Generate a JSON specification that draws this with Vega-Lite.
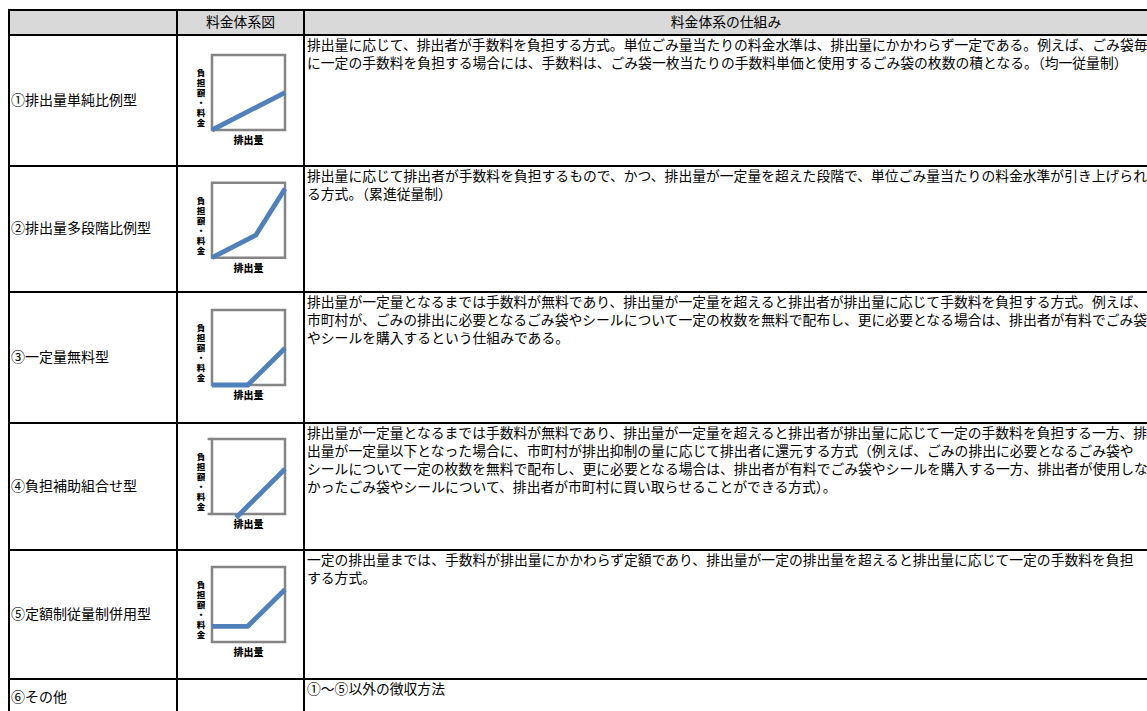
{
  "$schema": "https://vega.github.io/schema/vega-lite/v6.json",
  "padding": {"left": 8, "top": 9, "right": 0, "bottom": 0},
  "columns": 3,
  "spacing": 0,
  "align": "each",
  "bounds": "flush",
  "config": {
    "view": {"stroke": "#000000", "strokeWidth": 2, "fill": "#ffffff"},
    "font": "Noto Sans CJK JP",
    "text": {"fontSize": 14, "color": "#000000"},
    "concat": {"spacing": 0}
  },
  "datasets": {
    "rows": [
      {"row": 1, "type": "①排出量単純比例型", "desc": "排出量に応じて、排出者が手数料を負担する方式。単位ごみ量当たりの料金水準は、排出量にかかわらず一定である。例えば、ごみ袋毎\nに一定の手数料を負担する場合には、手数料は、ごみ袋一枚当たりの手数料単価と使用するごみ袋の枚数の積となる。（均一従量制）"},
      {"row": 2, "type": "②排出量多段階比例型", "desc": "排出量に応じて排出者が手数料を負担するもので、かつ、排出量が一定量を超えた段階で、単位ごみ量当たりの料金水準が引き上げられ\nる方式。（累進従量制）"},
      {"row": 3, "type": "③一定量無料型", "desc": "排出量が一定量となるまでは手数料が無料であり、排出量が一定量を超えると排出者が排出量に応じて手数料を負担する方式。例えば、\n市町村が、ごみの排出に必要となるごみ袋やシールについて一定の枚数を無料で配布し、更に必要となる場合は、排出者が有料でごみ袋\nやシールを購入するという仕組みである。"},
      {"row": 4, "type": "④負担補助組合せ型", "desc": "排出量が一定量となるまでは手数料が無料であり、排出量が一定量を超えると排出者が排出量に応じて一定の手数料を負担する一方、排\n出量が一定量以下となった場合に、市町村が排出抑制の量に応じて排出者に還元する方式（例えば、ごみの排出に必要となるごみ袋や\nシールについて一定の枚数を無料で配布し、更に必要となる場合は、排出者が有料でごみ袋やシールを購入する一方、排出者が使用しな\nかったごみ袋やシールについて、排出者が市町村に買い取らせることができる方式）。"},
      {"row": 5, "type": "⑤定額制従量制併用型", "desc": "一定の排出量までは、手数料が排出量にかかわらず定額であり、排出量が一定の排出量を超えると排出量に応じて一定の手数料を負担\nする方式。"},
      {"row": 6, "type": "⑥その他", "desc": "①～⑤以外の徴収方法"}
    ],
    "curves": [
      {"row": 1, "x": 0, "y": 0},
      {"row": 1, "x": 1, "y": 0.5},
      {"row": 2, "x": 0, "y": 0},
      {"row": 2, "x": 0.6, "y": 0.3},
      {"row": 2, "x": 1, "y": 0.92},
      {"row": 3, "x": 0, "y": 0},
      {"row": 3, "x": 0.49, "y": 0},
      {"row": 3, "x": 1, "y": 0.49},
      {"row": 4, "x": 0.33, "y": -0.05},
      {"row": 4, "x": 1, "y": 0.6},
      {"row": 5, "x": 0, "y": 0.21},
      {"row": 5, "x": 0.49, "y": 0.21},
      {"row": 5, "x": 1, "y": 0.7}
    ],
    "ticks": [{"row": 4, "y": 0}, {"row": 4, "y": 1}]
  },
  "concat": [
    {"width": 168, "height": 25, "view": {"fill": "#d9d9d9", "stroke": "#000000", "strokeWidth": 2}, "data": {"values": [{}]}, "mark": {"type": "text", "text": ""}},
    {"width": 127, "height": 25, "view": {"fill": "#d9d9d9", "stroke": "#000000", "strokeWidth": 2}, "data": {"values": [{}]}, "mark": {"type": "text", "text": "料金体系図", "fontSize": 13.8}},
    {"width": 844, "height": 25, "view": {"fill": "#d9d9d9", "stroke": "#000000", "strokeWidth": 2}, "data": {"values": [{}]}, "mark": {"type": "text", "text": "料金体系の仕組み", "fontSize": 13.8}},

    {"width": 168, "height": 131, "data": {"name": "rows"}, "transform": [{"filter": "datum.row == 1"}], "mark": {"type": "text", "align": "left", "dx": 2}, "encoding": {"text": {"field": "type"}, "x": {"datum": 0, "type": "quantitative", "scale": {"domain": [0, 1]}, "axis": null}}},
    {"width": 127, "height": 131, "layer": [
      {"data": {"values": [{}]}, "mark": {"type": "rect", "fill": "#ffffff", "stroke": "#858585", "strokeWidth": 2.5}, "encoding": {"x": {"datum": 0, "type": "quantitative", "scale": {"domain": [-0.479, 1.26], "nice": false, "zero": false}, "axis": null}, "x2": {"datum": 1}, "y": {"datum": 0, "type": "quantitative", "scale": {"domain": [-0.48, 1.267], "nice": false, "zero": false}, "axis": null}, "y2": {"datum": 1}}},
      {"data": {"name": "curves"}, "transform": [{"filter": "datum.row == 1"}], "mark": {"type": "line", "color": "#4f81bd", "strokeWidth": 4.8}, "encoding": {"x": {"field": "x", "type": "quantitative"}, "y": {"field": "y", "type": "quantitative"}}},
      {"data": {"values": [{}]}, "mark": {"type": "text", "text": "負\n担\n額\n・\n料\n金", "lineBreak": "\n", "fontWeight": 900, "fontSize": 8.5, "lineHeight": 10, "baseline": "top", "align": "center"}, "encoding": {"x": {"datum": -0.15}, "y": {"datum": 0.81}}},
      {"data": {"values": [{}]}, "mark": {"type": "text", "text": "排出量", "fontWeight": 900, "fontSize": 10, "baseline": "top", "align": "center"}, "encoding": {"x": {"datum": 0.5}, "y": {"datum": -0.08}}}
    ]},
    {"width": 844, "height": 131, "data": {"name": "rows"}, "transform": [{"filter": "datum.row == 1"}], "mark": {"type": "text", "align": "left", "baseline": "top", "dx": 3, "dy": 4, "fontSize": 13.8, "lineBreak": "\n", "lineHeight": 18, "clip": true}, "encoding": {"text": {"field": "desc"}, "x": {"datum": 0, "type": "quantitative", "scale": {"domain": [0, 1]}, "axis": null}, "y": {"datum": 1, "type": "quantitative", "scale": {"domain": [0, 1]}, "axis": null}}},

    {"width": 168, "height": 126, "data": {"name": "rows"}, "transform": [{"filter": "datum.row == 2"}], "mark": {"type": "text", "align": "left", "dx": 2}, "encoding": {"text": {"field": "type"}, "x": {"datum": 0, "type": "quantitative", "scale": {"domain": [0, 1]}, "axis": null}}},
    {"width": 127, "height": 126, "layer": [
      {"data": {"values": [{}]}, "mark": {"type": "rect", "fill": "#ffffff", "stroke": "#858585", "strokeWidth": 2.5}, "encoding": {"x": {"datum": 0, "type": "quantitative", "scale": {"domain": [-0.479, 1.26], "nice": false, "zero": false}, "axis": null}, "x2": {"datum": 1}, "y": {"datum": 0, "type": "quantitative", "scale": {"domain": [-0.457, 1.223], "nice": false, "zero": false}, "axis": null}, "y2": {"datum": 1}}},
      {"data": {"name": "curves"}, "transform": [{"filter": "datum.row == 2"}], "mark": {"type": "line", "color": "#4f81bd", "strokeWidth": 4.8}, "encoding": {"x": {"field": "x", "type": "quantitative"}, "y": {"field": "y", "type": "quantitative"}}},
      {"data": {"values": [{}]}, "mark": {"type": "text", "text": "負\n担\n額\n・\n料\n金", "lineBreak": "\n", "fontWeight": 900, "fontSize": 8.5, "lineHeight": 10, "baseline": "top", "align": "center"}, "encoding": {"x": {"datum": -0.15}, "y": {"datum": 0.81}}},
      {"data": {"values": [{}]}, "mark": {"type": "text", "text": "排出量", "fontWeight": 900, "fontSize": 10, "baseline": "top", "align": "center"}, "encoding": {"x": {"datum": 0.5}, "y": {"datum": -0.08}}}
    ]},
    {"width": 844, "height": 126, "data": {"name": "rows"}, "transform": [{"filter": "datum.row == 2"}], "mark": {"type": "text", "align": "left", "baseline": "top", "dx": 3, "dy": 4, "fontSize": 13.8, "lineBreak": "\n", "lineHeight": 18, "clip": true}, "encoding": {"text": {"field": "desc"}, "x": {"datum": 0, "type": "quantitative", "scale": {"domain": [0, 1]}, "axis": null}, "y": {"datum": 1, "type": "quantitative", "scale": {"domain": [0, 1]}, "axis": null}}},

    {"width": 168, "height": 131, "data": {"name": "rows"}, "transform": [{"filter": "datum.row == 3"}], "mark": {"type": "text", "align": "left", "dx": 2}, "encoding": {"text": {"field": "type"}, "x": {"datum": 0, "type": "quantitative", "scale": {"domain": [0, 1]}, "axis": null}}},
    {"width": 127, "height": 131, "layer": [
      {"data": {"values": [{}]}, "mark": {"type": "rect", "fill": "#ffffff", "stroke": "#858585", "strokeWidth": 2.5}, "encoding": {"x": {"datum": 0, "type": "quantitative", "scale": {"domain": [-0.479, 1.26], "nice": false, "zero": false}, "axis": null}, "x2": {"datum": 1}, "y": {"datum": 0, "type": "quantitative", "scale": {"domain": [-0.507, 1.24], "nice": false, "zero": false}, "axis": null}, "y2": {"datum": 1}}},
      {"data": {"name": "curves"}, "transform": [{"filter": "datum.row == 3"}], "mark": {"type": "line", "color": "#4f81bd", "strokeWidth": 4.8}, "encoding": {"x": {"field": "x", "type": "quantitative"}, "y": {"field": "y", "type": "quantitative"}}},
      {"data": {"values": [{}]}, "mark": {"type": "text", "text": "負\n担\n額\n・\n料\n金", "lineBreak": "\n", "fontWeight": 900, "fontSize": 8.5, "lineHeight": 10, "baseline": "top", "align": "center"}, "encoding": {"x": {"datum": -0.15}, "y": {"datum": 0.81}}},
      {"data": {"values": [{}]}, "mark": {"type": "text", "text": "排出量", "fontWeight": 900, "fontSize": 10, "baseline": "top", "align": "center"}, "encoding": {"x": {"datum": 0.5}, "y": {"datum": -0.08}}}
    ]},
    {"width": 844, "height": 131, "data": {"name": "rows"}, "transform": [{"filter": "datum.row == 3"}], "mark": {"type": "text", "align": "left", "baseline": "top", "dx": 3, "dy": 4, "fontSize": 13.8, "lineBreak": "\n", "lineHeight": 18, "clip": true}, "encoding": {"text": {"field": "desc"}, "x": {"datum": 0, "type": "quantitative", "scale": {"domain": [0, 1]}, "axis": null}, "y": {"datum": 1, "type": "quantitative", "scale": {"domain": [0, 1]}, "axis": null}}},

    {"width": 168, "height": 127, "data": {"name": "rows"}, "transform": [{"filter": "datum.row == 4"}], "mark": {"type": "text", "align": "left", "dx": 2}, "encoding": {"text": {"field": "type"}, "x": {"datum": 0, "type": "quantitative", "scale": {"domain": [0, 1]}, "axis": null}}},
    {"width": 127, "height": 127, "layer": [
      {"data": {"values": [{}]}, "mark": {"type": "rect", "fill": "#ffffff", "stroke": "#858585", "strokeWidth": 2.5}, "encoding": {"x": {"datum": 0, "type": "quantitative", "scale": {"domain": [-0.479, 1.26], "nice": false, "zero": false}, "axis": null}, "x2": {"datum": 1}, "y": {"datum": 0, "type": "quantitative", "scale": {"domain": [-0.48, 1.213], "nice": false, "zero": false}, "axis": null}, "y2": {"datum": 1}}},
      {"data": {"name": "ticks"}, "mark": {"type": "rule", "color": "#858585", "strokeWidth": 2.5}, "encoding": {"x": {"datum": -0.06}, "x2": {"datum": 0}, "y": {"field": "y", "type": "quantitative"}}},
      {"data": {"name": "curves"}, "transform": [{"filter": "datum.row == 4"}], "mark": {"type": "line", "color": "#4f81bd", "strokeWidth": 4.8}, "encoding": {"x": {"field": "x", "type": "quantitative"}, "y": {"field": "y", "type": "quantitative"}}},
      {"data": {"values": [{}]}, "mark": {"type": "text", "text": "負\n担\n額\n・\n料\n金", "lineBreak": "\n", "fontWeight": 900, "fontSize": 8.5, "lineHeight": 10, "baseline": "top", "align": "center"}, "encoding": {"x": {"datum": -0.15}, "y": {"datum": 0.81}}},
      {"data": {"values": [{}]}, "mark": {"type": "text", "text": "排出量", "fontWeight": 900, "fontSize": 10, "baseline": "top", "align": "center"}, "encoding": {"x": {"datum": 0.5}, "y": {"datum": -0.08}}}
    ]},
    {"width": 844, "height": 127, "data": {"name": "rows"}, "transform": [{"filter": "datum.row == 4"}], "mark": {"type": "text", "align": "left", "baseline": "top", "dx": 3, "dy": 4, "fontSize": 13.8, "lineBreak": "\n", "lineHeight": 18, "clip": true}, "encoding": {"text": {"field": "desc"}, "x": {"datum": 0, "type": "quantitative", "scale": {"domain": [0, 1]}, "axis": null}, "y": {"datum": 1, "type": "quantitative", "scale": {"domain": [0, 1]}, "axis": null}}},

    {"width": 168, "height": 129, "data": {"name": "rows"}, "transform": [{"filter": "datum.row == 5"}], "mark": {"type": "text", "align": "left", "dx": 2}, "encoding": {"text": {"field": "type"}, "x": {"datum": 0, "type": "quantitative", "scale": {"domain": [0, 1]}, "axis": null}}},
    {"width": 127, "height": 129, "layer": [
      {"data": {"values": [{}]}, "mark": {"type": "rect", "fill": "#ffffff", "stroke": "#858585", "strokeWidth": 2.5}, "encoding": {"x": {"datum": 0, "type": "quantitative", "scale": {"domain": [-0.479, 1.26], "nice": false, "zero": false}, "axis": null}, "x2": {"datum": 1}, "y": {"datum": 0, "type": "quantitative", "scale": {"domain": [-0.493, 1.227], "nice": false, "zero": false}, "axis": null}, "y2": {"datum": 1}}},
      {"data": {"name": "curves"}, "transform": [{"filter": "datum.row == 5"}], "mark": {"type": "line", "color": "#4f81bd", "strokeWidth": 4.8}, "encoding": {"x": {"field": "x", "type": "quantitative"}, "y": {"field": "y", "type": "quantitative"}}},
      {"data": {"values": [{}]}, "mark": {"type": "text", "text": "負\n担\n額\n・\n料\n金", "lineBreak": "\n", "fontWeight": 900, "fontSize": 8.5, "lineHeight": 10, "baseline": "top", "align": "center"}, "encoding": {"x": {"datum": -0.15}, "y": {"datum": 0.81}}},
      {"data": {"values": [{}]}, "mark": {"type": "text", "text": "排出量", "fontWeight": 900, "fontSize": 10, "baseline": "top", "align": "center"}, "encoding": {"x": {"datum": 0.5}, "y": {"datum": -0.08}}}
    ]},
    {"width": 844, "height": 129, "data": {"name": "rows"}, "transform": [{"filter": "datum.row == 5"}], "mark": {"type": "text", "align": "left", "baseline": "top", "dx": 3, "dy": 4, "fontSize": 13.8, "lineBreak": "\n", "lineHeight": 18, "clip": true}, "encoding": {"text": {"field": "desc"}, "x": {"datum": 0, "type": "quantitative", "scale": {"domain": [0, 1]}, "axis": null}, "y": {"datum": 1, "type": "quantitative", "scale": {"domain": [0, 1]}, "axis": null}}},

    {"width": 168, "height": 38, "data": {"name": "rows"}, "transform": [{"filter": "datum.row == 6"}], "mark": {"type": "text", "align": "left", "dx": 2}, "encoding": {"text": {"field": "type"}, "x": {"datum": 0, "type": "quantitative", "scale": {"domain": [0, 1]}, "axis": null}}},
    {"width": 127, "height": 38, "data": {"values": [{}]}, "mark": {"type": "text", "text": ""}},
    {"width": 844, "height": 38, "data": {"name": "rows"}, "transform": [{"filter": "datum.row == 6"}], "mark": {"type": "text", "align": "left", "baseline": "top", "dx": 3, "dy": 4, "fontSize": 13.8, "lineBreak": "\n", "lineHeight": 18, "clip": true}, "encoding": {"text": {"field": "desc"}, "x": {"datum": 0, "type": "quantitative", "scale": {"domain": [0, 1]}, "axis": null}, "y": {"datum": 1, "type": "quantitative", "scale": {"domain": [0, 1]}, "axis": null}}}
  ]
}
